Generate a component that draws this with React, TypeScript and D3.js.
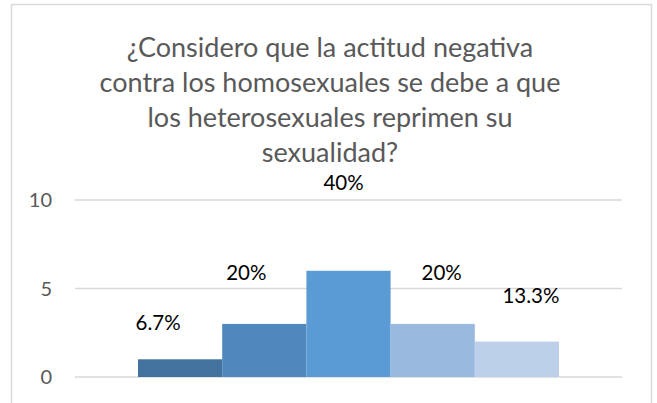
import React from "react";
import * as d3 from "d3";

const titleLines = [
  "¿Considero que la actitud negativa",
  "contra los homosexuales se debe a que",
  "los heterosexuales reprimen su",
  "sexualidad?",
];
const seriesNames = ["S1", "S2", "S3", "S4", "S5"];
const seriesValues = [1, 3, 6, 3, 2];
const seriesLabels = ["6.7%", "20%", "40%", "20%", "13.3%"];
const seriesColors = ["#43729e", "#4f88bc", "#5b9bd5", "#99b9df", "#bdd0ea"];
const yTicks = [0, 5, 10];

// label nudges (px) relative to bar center / bar top, as placed in the original
const labelDx = [-22, -18, -5, 9, 14];
const labelDy = [-29, -44, -81, -44, -39];

const W = 657;
const H = 403;

export default function App() {
  const plotLeft = 75;
  const plotRight = 622;
  const y = d3.scaleLinear().domain([0, 10]).range([377, 200]);
  const x = d3
    .scaleBand<string>()
    .domain(seriesNames)
    .range([138, 559])
    .paddingInner(0);
  const font = "Lato, 'Open Sans', sans-serif";

  return (
    <svg
      width={W}
      height={H}
      style={{ position: "absolute", left: 0, top: 0, background: "#fff" }}
      fontFamily={font}
    >
      <rect x={0} y={0} width={W} height={H} fill="#fff" />
      <rect
        x={11.5}
        y={4.5}
        width={640}
        height={H + 20}
        fill="#fff"
        stroke="#d9d9d9"
        strokeWidth={1.5}
      />
      {titleLines.map((t, i) => (
        <text
          key={i}
          x={330}
          y={57 + i * 35}
          textAnchor="middle"
          fontSize={27}
          fill="#595959"
        >
          {t}
        </text>
      ))}
      {yTicks.map((t) => (
        <g key={t}>
          <line
            x1={plotLeft}
            x2={plotRight}
            y1={y(t)}
            y2={y(t)}
            stroke="#d9d9d9"
            strokeWidth={1.5}
          />
          <text
            x={52}
            y={y(t)}
            dy="0.35em"
            textAnchor="end"
            fontSize={20}
            fill="#595959"
          >
            {t}
          </text>
        </g>
      ))}
      {seriesNames.map((s, i) => (
        <rect
          key={s}
          x={x(s)!}
          y={y(seriesValues[i])}
          width={x.bandwidth()}
          height={y(0) - y(seriesValues[i])}
          fill={seriesColors[i]}
        />
      ))}
      {seriesNames.map((s, i) => (
        <text
          key={"l" + s}
          x={x(s)! + x.bandwidth() / 2 + labelDx[i]}
          y={y(seriesValues[i]) + labelDy[i]}
          textAnchor="middle"
          fontSize={20.5}
          fill="#000"
        >
          {seriesLabels[i]}
        </text>
      ))}
    </svg>
  );
}
